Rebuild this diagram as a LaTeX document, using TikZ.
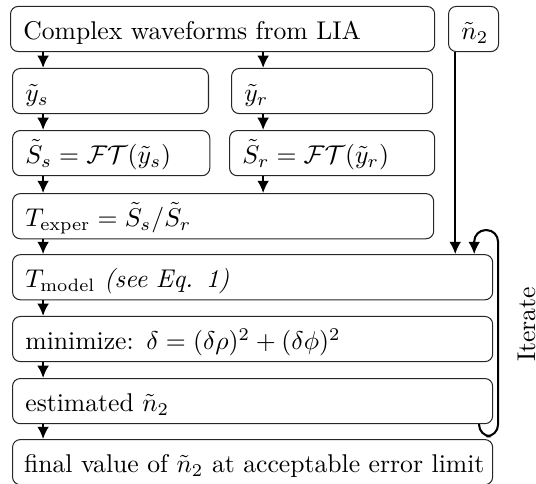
\documentclass[tikz,border=0pt]{standalone}
\usepackage{amsmath}
\usetikzlibrary{arrows.meta,positioning,calc}

\begin{document}
\begin{tikzpicture}[
  box/.style={draw=black!85,rounded corners=3pt,anchor=north west,inner xsep=5pt,
              minimum height=17.6pt,align=left,text height=9pt,text depth=1pt},
  arrow/.style={-{Latex[length=4.8pt,width=4.6pt]},thick}
]
\useasboundingbox (0,0) rectangle (209pt,-188.4pt);
% input and the two channels
\node[box,text width=155.4pt] (lia) at (3.9pt,-2.3pt) {Complex waveforms from LIA};
\node[box,text width=9.5pt,align=right,inner xsep=5pt] (ntwo) at (174.7pt,-2.3pt) {$\tilde{n}_2$};
\node[box,text width=66.4pt] (ys) at (4.7pt,-26.5pt) {$\tilde{y}_s$};
\node[box,text width=68.4pt] (yr) at (90.1pt,-26.5pt) {$\tilde{y}_r$};
\node[box,text width=66.9pt] (specs) at (4.7pt,-50.7pt) {$\tilde{S}_s=\mathcal{FT}(\tilde{y}_s)$};
\node[box,text width=70pt] (specr) at (89.3pt,-50.7pt) {$\tilde{S}_r=\mathcal{FT}(\tilde{y}_r)$};
% fitting chain
\node[box,text width=154.2pt] (texp) at (4.7pt,-75.3pt) {$T_\mathrm{exper}=\tilde{S}_s/\tilde{S}_r$};
\node[box,text width=177.2pt] (tmod) at (4.7pt,-99.1pt) {$T_\mathrm{model}$ \textit{(see Eq. 1)}};
\node[box,text width=177.2pt] (mini) at (4.7pt,-123.2pt) {minimize: $\delta=(\delta\rho)^2+(\delta\phi)^2$};
\node[box,text width=177.2pt] (est) at (4.7pt,-147.4pt) {estimated $\tilde{n}_2$};
\node[box,text width=178.2pt,inner xsep=4.5pt] (final) at (4.7pt,-171.2pt) {\mbox{final value of $\tilde{n}_2$ at acceptable error limit}};

\coordinate (cl) at (16.8pt,0);
\coordinate (cr) at (102.6pt,0);
\coordinate (feed) at (177.5pt,0);
\coordinate (loopx) at (194.2pt,-89.7pt);

\foreach \a/\b in {lia/ys,ys/specs,specs/texp,texp/tmod,tmod/mini,mini/est,est/final}
  \draw[arrow] (\a.south -| cl) -- (\b.north -| cl);
\foreach \a/\b in {lia/yr,yr/specr,specr/texp}
  \draw[arrow] (\a.south -| cr) -- (\b.north -| cr);
\draw[arrow] (ntwo.south -| feed) -- (tmod.north -| feed);

% loop back
\draw[arrow,rounded corners=4.5pt] ([xshift=-5.5pt]est.south east) -- ++(0,-4.7pt) -| (loopx) -| ([xshift=-7.4pt]tmod.north east);
\node[rotate=90] (iter) at (205.3pt,-126.5pt) {Iterate};
\end{tikzpicture}
\end{document}
